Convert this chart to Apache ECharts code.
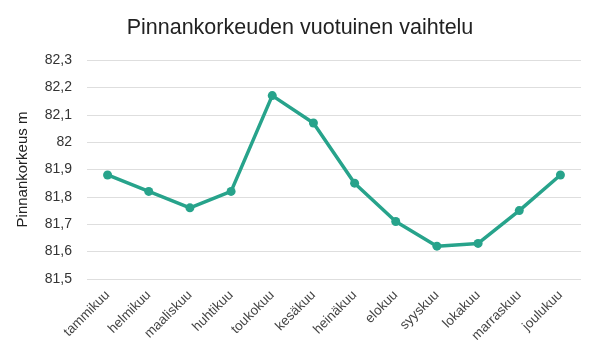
<!DOCTYPE html>
<html>
<head>
<meta charset="utf-8">
<script src="https://cdn.jsdelivr.net/npm/echarts@6/dist/echarts.min.js"></script>
<style>html,body{margin:0;padding:0;background:#fff}#c{width:600px;height:362px}</style>
</head>
<body>
<div id="c"></div>
<script>
const months = ['tammikuu','helmikuu','maaliskuu','huhtikuu','toukokuu','kesäkuu','heinäkuu','elokuu','syyskuu','lokakuu','marraskuu','joulukuu'];
const levels = [81.88, 81.82, 81.76, 81.82, 82.17, 82.07, 81.85, 81.71, 81.62, 81.63, 81.75, 81.88];
const titleText = 'Pinnankorkeuden vuotuinen vaihtelu';
const yName = 'Pinnankorkeus m';

const chart = echarts.init(document.getElementById('c'));
const font = 'Liberation Sans, Arial, sans-serif';
chart.setOption({
  animation: false,
  title: {
    text: titleText, left: 'center', top: 12,
    textStyle: {fontFamily: font, fontSize: 21.5, fontWeight: 'normal', color: '#222'}
  },
  grid: {left: 87, right: 19, top: 60, bottom: 83},
  xAxis: {
    type: 'category', data: months, boundaryGap: true,
    axisLine: {show: false}, axisTick: {show: false},
    axisLabel: {rotate: 45, interval: 0, margin: 14, fontFamily: font, fontSize: 13.5, color: '#444'}
  },
  yAxis: {
    type: 'value', min: 81.5, max: 82.3, interval: 0.1,
    name: yName, nameLocation: 'middle', nameGap: 57, nameRotate: 90,
    nameTextStyle: {fontFamily: font, fontSize: 15, color: '#222'},
    axisLine: {show: false}, axisTick: {show: false},
    axisLabel: {margin: 15, fontFamily: font, fontSize: 14, color: '#333',
      formatter: v => String(Math.round(v * 10) / 10).replace('.', ',')},
    splitLine: {lineStyle: {color: '#dedede', width: 1}}
  },
  series: [{
    type: 'line', data: levels,
    lineStyle: {color: '#27a38b', width: 3.5},
    itemStyle: {color: '#27a38b'},
    symbol: 'circle', symbolSize: 9
  }]
});
</script>
</body>
</html>
